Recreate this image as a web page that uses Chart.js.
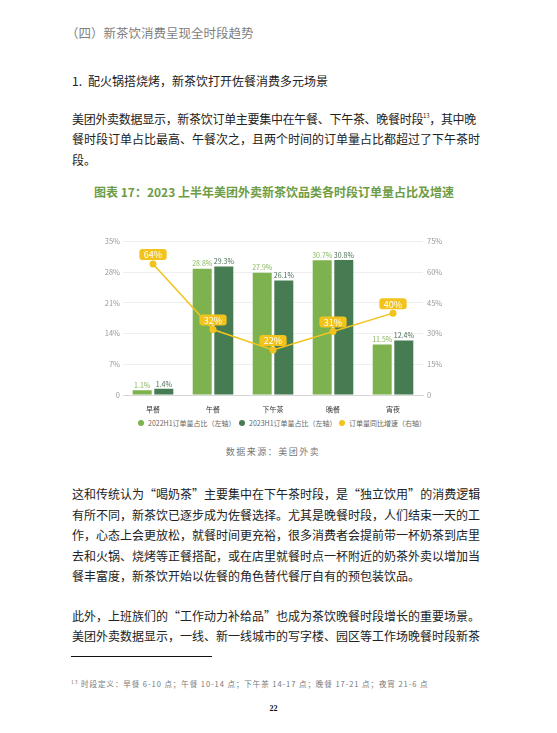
<!DOCTYPE html>
<html lang="zh-CN">
<head>
<meta charset="utf-8">
<script src="https://cdn.jsdelivr.net/npm/chart.js@4.4.0/dist/chart.umd.min.js"></script>
<style>
html,body{margin:0;padding:0;background:#fff;}
body{width:557px;height:733px;position:relative;overflow:hidden;font-family:"Noto Sans CJK SC","Noto Sans",sans-serif;color:#222;}
.abs{position:absolute;white-space:nowrap;}
.para{position:absolute;left:72px;}
.ln{height:20.6px;line-height:20.6px;font-size:12px;white-space:nowrap;text-align:justify;text-align-last:justify;width:396px;}
.ln.end{text-align-last:left;}
.q{font-feature-settings:"fwid" 1;}
.sup{font-size:6px;vertical-align:top;line-height:14px;}
.lg{position:absolute;top:418px;font-size:7px;color:#666;line-height:10px;white-space:nowrap;}
.lg i{position:absolute;left:-10px;top:2px;width:6px;height:6px;border-radius:50%;}
</style>
</head>
<body>
<div class="abs" style="left:66px;top:24px;font-size:12.5px;line-height:17px;color:#808080;">（四）新茶饮消费呈现全时段趋势</div>
<div class="abs" style="left:72px;top:72px;font-size:12px;line-height:18px;color:#222;"><span style="display:inline-block;width:16px;">1.</span>配火锅搭烧烤，新茶饮打开佐餐消费多元场景</div>

<div class="para" style="top:108.5px;">
  <div class="ln" style="width:404px;letter-spacing:-0.3px;">美团外卖数据显示，新茶饮订单主要集中在午餐、下午茶、晚餐时段<span class="sup">13</span>，其中晚</div>
  <div class="ln">餐时段订单占比最高、午餐次之，且两个时间的订单量占比都超过了下午茶时</div>
  <div class="ln end">段。</div>
</div>

<div class="abs" style="left:0;width:548px;top:183px;text-align:center;font-size:12px;font-weight:bold;line-height:18px;color:#6d9c45;">图表 17：2023 上半年美团外卖新茶饮品类各时段订单量占比及增速</div>

<canvas id="chart" width="370" height="190" style="position:absolute;left:95px;top:225px;width:370px;height:190px;"></canvas>

<div class="lg" style="left:148px;"><i style="background:#7db24e;"></i>2022H1订单量占比（左轴）</div>
<div class="lg" style="left:249px;"><i style="background:#477c52;"></i>2023H1订单量占比（左轴）</div>
<div class="lg" style="left:349px;"><i style="background:#f1c31c;"></i>订单量同比增速（右轴）</div>

<div class="abs" style="left:0;width:546px;top:445px;text-align:center;font-size:9px;line-height:13px;letter-spacing:1.5px;color:#777;">数据来源：美团外卖</div>

<div class="para" style="top:484px;">
  <div class="ln">这和传统认为<span class="q">“</span>喝奶茶<span class="q">”</span>主要集中在下午茶时段，是<span class="q">“</span>独立饮用<span class="q">”</span>的消费逻辑</div>
  <div class="ln">有所不同，新茶饮已逐步成为佐餐选择。尤其是晚餐时段，人们结束一天的工</div>
  <div class="ln">作，心态上会更放松，就餐时间更充裕，很多消费者会提前带一杯奶茶到店里</div>
  <div class="ln">去和火锅、烧烤等正餐搭配，或在店里就餐时点一杯附近的奶茶外卖以增加当</div>
  <div class="ln end">餐丰富度，新茶饮开始以佐餐的角色替代餐厅自有的预包装饮品。</div>
</div>

<div class="para" style="top:605.5px;">
  <div class="ln">此外，上班族们的<span class="q">“</span>工作动力补给品<span class="q">”</span>也成为茶饮晚餐时段增长的重要场景。</div>
  <div class="ln">美团外卖数据显示，一线、新一线城市的写字楼、园区等工作场晚餐时段新茶</div>
</div>

<div class="abs" style="left:71px;top:656px;width:141px;height:1px;background:#111;"></div>
<div class="abs" style="left:71px;top:678px;font-size:7.5px;line-height:11px;letter-spacing:0.95px;color:#777;"><span style="font-size:5px;vertical-align:top;line-height:8px;">13</span> 时段定义：早餐 6-10 点；午餐 10-14 点；下午茶 14-17 点；晚餐 17-21 点；夜宵 21-6 点</div>
<div class="abs" style="left:0;width:547px;top:703px;text-align:center;font-family:'Liberation Serif',serif;font-weight:bold;font-size:8px;line-height:11px;color:#111;">22</div>

<script>
// 数据
const categories = ['早餐', '午餐', '下午茶', '晚餐', '宵夜'];
const share2022 = [1.1, 28.8, 27.9, 30.7, 11.5];
const share2023 = [1.4, 29.3, 26.1, 30.8, 12.4];
const growth = [64, 32, 22, 31, 40];
const leftTicks = [0, 7, 14, 21, 28, 35];
const rightTicks = [0, 15, 30, 45, 60, 75];

const GREEN_LIGHT = '#7db24e';
const GREEN_DARK = '#477c52';
const YELLOW = '#f1c31c';
const FONT = '"Noto Sans CJK SC", "Noto Sans", sans-serif';

function pct(v) { return v === 0 ? '0' : v + '%'; }

// 柱子数值 + 折线标签
const valueLabels = {
  id: 'valueLabels',
  afterDatasetsDraw(chart) {
    const ctx = chart.ctx;
    ctx.save();
    ctx.font = '7px ' + FONT;
    ctx.textAlign = 'center';
    ctx.textBaseline = 'bottom';
    const barSets = [[1, '#86b85a'], [2, '#4a6f55']];
    barSets.forEach(function (s) {
      const meta = chart.getDatasetMeta(s[0]);
      const vals = chart.data.datasets[s[0]].data;
      ctx.fillStyle = s[1];
      meta.data.forEach(function (bar, i) {
        ctx.fillText(vals[i].toFixed(1) + '%', bar.x, bar.y - 1.5);
      });
    });

    const lineMeta = chart.getDatasetMeta(0);
    ctx.font = '9px ' + FONT;
    ctx.textBaseline = 'middle';
    lineMeta.data.forEach(function (pt, i) {
      const txt = growth[i] + '%';
      const w = ctx.measureText(txt).width + 9;
      const h = 11;
      const cy = pt.y - 9.5;
      ctx.fillStyle = YELLOW;
      ctx.beginPath();
      ctx.roundRect(pt.x - w / 2, cy - h / 2, w, h, 3);
      ctx.fill();
      ctx.fillStyle = '#fff';
      ctx.fillText(txt, pt.x, cy + 0.5);
    });
    ctx.restore();
  }
};

new Chart(document.getElementById('chart'), {
  type: 'bar',
  data: {
    labels: categories,
    datasets: [
      {
        type: 'line',
        label: '订单量同比增速（右轴）',
        data: growth,
        yAxisID: 'y1',
        borderColor: YELLOW,
        backgroundColor: YELLOW,
        borderWidth: 1.5,
        pointRadius: 3.5,
        pointBackgroundColor: YELLOW,
        pointBorderWidth: 0,
        tension: 0,
        order: 0
      },
      {
        label: '2022H1订单量占比（左轴）',
        data: share2022,
        yAxisID: 'y',
        backgroundColor: GREEN_LIGHT,
        categoryPercentage: 0.72,
        barPercentage: 0.88,
        order: 1
      },
      {
        label: '2023H1订单量占比（左轴）',
        data: share2023,
        yAxisID: 'y',
        backgroundColor: GREEN_DARK,
        categoryPercentage: 0.72,
        barPercentage: 0.88,
        order: 1
      }
    ]
  },
  options: {
    responsive: false,
    animation: false,
    layout: { padding: { top: 16.5, left: 0, right: 0, bottom: 0 } },
    plugins: { legend: { display: false }, tooltip: { enabled: false } },
    scales: {
      x: {
        grid: { display: false },
        border: { display: true, color: '#d6d6d6' },
        ticks: { color: '#333', font: { size: 7, family: FONT }, padding: 2 },
        afterFit(scale) { scale.height = 20; }
      },
      y: {
        position: 'left',
        min: 0, max: 35,
        grid: { color: '#efefef', drawTicks: false },
        border: { display: false },
        ticks: { color: '#999', font: { size: 7.5, family: FONT }, padding: 3, callback: pct },
        afterBuildTicks(scale) { scale.ticks = leftTicks.map(function (v) { return { value: v }; }); },
        afterFit(scale) { scale.width = 28; }
      },
      y1: {
        position: 'right',
        min: 0, max: 75,
        grid: { drawOnChartArea: false, drawTicks: false },
        border: { display: false },
        ticks: { color: '#999', font: { size: 7.5, family: FONT }, padding: 4, callback: pct },
        afterBuildTicks(scale) { scale.ticks = rightTicks.map(function (v) { return { value: v }; }); },
        afterFit(scale) { scale.width = 42; }
      }
    }
  },
  plugins: [valueLabels]
});
</script>
</body>
</html>
